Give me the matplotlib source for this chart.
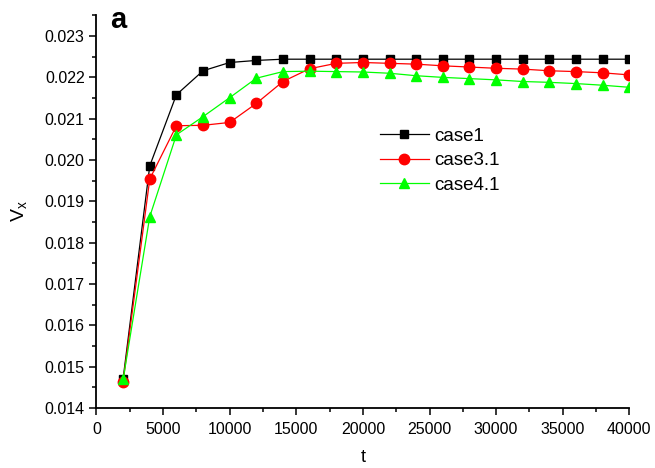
import matplotlib
matplotlib.use("Agg")
import matplotlib.pyplot as plt
from matplotlib.ticker import MultipleLocator

# time steps
t = [2000, 4000, 6000, 8000, 10000, 12000, 14000, 16000, 18000, 20000,
     22000, 24000, 26000, 28000, 30000, 32000, 34000, 36000, 38000, 40000]

case1 = [0.01471, 0.01986, 0.02158, 0.02216, 0.02236, 0.02241, 0.02244, 0.02244,
         0.02244, 0.02244, 0.02244, 0.02244, 0.02244, 0.02244, 0.02244, 0.02244,
         0.02244, 0.02244, 0.02244, 0.02244]
case3_1 = [0.01464, 0.01954, 0.02083, 0.02084, 0.02091, 0.02137, 0.02190, 0.02221,
           0.02234, 0.02236, 0.02234, 0.02232, 0.02228, 0.02225, 0.02222, 0.02220,
           0.02216, 0.02214, 0.02211, 0.02206]
case4_1 = [0.01469, 0.01863, 0.02061, 0.02105, 0.02151, 0.02198, 0.02214, 0.02215,
           0.02214, 0.02213, 0.02210, 0.02204, 0.02200, 0.02197, 0.02194, 0.02190,
           0.02188, 0.02185, 0.02181, 0.02176]

plt.rcParams.update({
    "font.family": ["Liberation Sans", "DejaVu Sans"],
    "mathtext.default": "regular",
    "font.size": 11,
})

fig = plt.figure(figsize=(6.55, 4.68), dpi=100)
ax = fig.add_axes([0.1473, 0.1282, 0.8135, 0.8398])

ax.plot(t, case1, color="black", lw=0.9, marker="s", ms=5.5,
        mfc="black", mec="black", label="case1")
ax.plot(t, case3_1, color="#ff0000", lw=0.9, marker="o", ms=7.5,
        mfc="#ff0000", mec="#ff0000", label="case3.1")
ax.plot(t, case4_1, color="#00ff00", lw=0.9, marker="^", ms=7.5,
        mfc="#00ff00", mec="#00ff00", label="case4.1")

ax.set_xlim(0, 40000)
ax.set_ylim(0.014, 0.02351)
ax.xaxis.set_major_locator(MultipleLocator(5000))
ax.xaxis.set_minor_locator(MultipleLocator(2500))
ax.yaxis.set_major_locator(MultipleLocator(0.001))
ax.yaxis.set_minor_locator(MultipleLocator(0.0005))
ax.yaxis.set_major_formatter(matplotlib.ticker.FormatStrFormatter("%.3f"))

for side in ["top", "right"]:
    ax.spines[side].set_visible(False)
for side in ["left", "bottom"]:
    ax.spines[side].set_linewidth(1.3)

ax.tick_params(which="major", direction="out", length=5, width=1.1, labelsize=11.5)
ax.tick_params(axis="x", which="major", pad=5)
ax.tick_params(which="minor", direction="out", length=3, width=1.1)

ax.set_xlabel("t", fontsize=13, labelpad=9)
ax.set_ylabel("V$_x$", fontsize=14, labelpad=11)

fig.text(0.168, 0.988, "a", fontsize=21, fontweight="bold", va="top", ha="left")

ax.legend(loc="upper left", bbox_to_anchor=(0.532, 0.714), frameon=False,
          fontsize=13.5, handlelength=2.6, handletextpad=0.3,
          labelspacing=0.4, borderpad=0, borderaxespad=0)

fig.savefig("out.png", dpi=100)
